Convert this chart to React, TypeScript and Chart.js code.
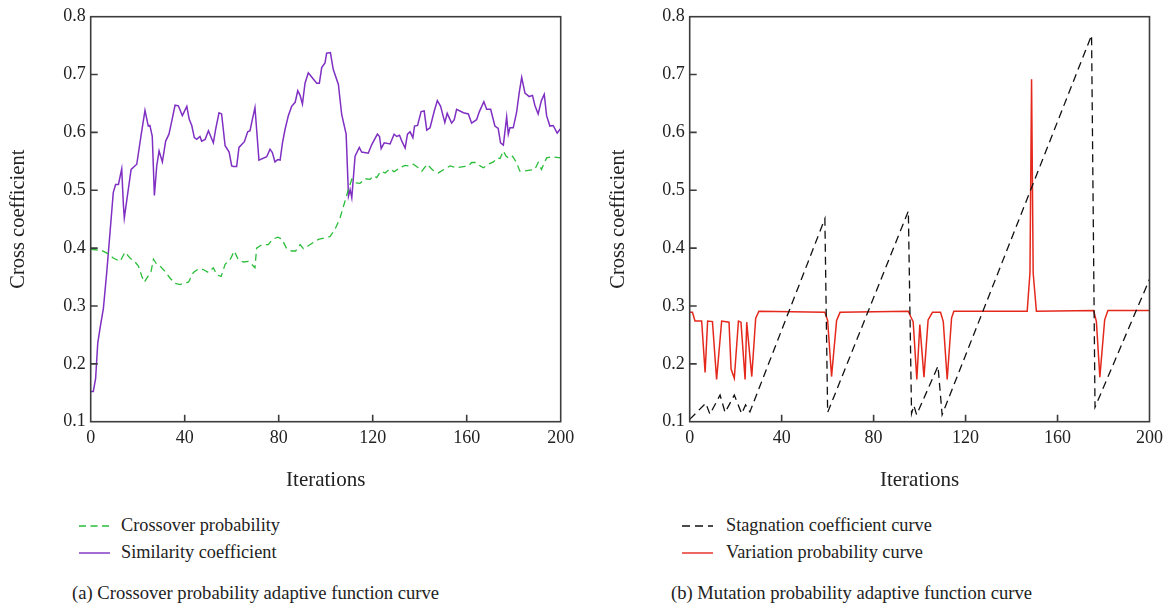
import React, { useEffect, useRef } from "react";
import { Chart, registerables } from "chart.js";

Chart.register(...registerables);

const FONT = "'Liberation Serif', 'Times New Roman', serif";

// ---- axes ----
const X_TICKS = [0, 40, 80, 120, 160, 200];
const Y_TICKS = [0.1, 0.2, 0.3, 0.4, 0.5, 0.6, 0.7, 0.8];
const Y_TICK_LABELS = ["0.1", "0.2", "0.3", "0.4", "0.5", "0.6", "0.7", "0.8"];
const X_TITLE = "Iterations";
const Y_TITLE = "Cross coefficient";

// ---- panel (a) ----
const crossX = [0, 4.7, 7.5, 9.6, 12.5, 14.6, 16.7, 18.9, 20.3, 21.7, 22.8, 24.5, 25.7, 26.7, 28.1, 29.5, 31.6, 33.8, 35.9, 38, 40.1, 41.6, 43.7, 45.8, 47.9, 50.1, 52.2, 53.6, 55.5, 57.2, 59.3, 61.1, 62.8, 65, 67.1, 68.5, 69.9, 70.6, 72.8, 75.6, 77.3, 79.6, 81.3, 83.4, 85.5, 87.2, 89.1, 90.5, 92.6, 94.8, 96.9, 99.7, 101.8, 103.9, 106.1, 108.2, 109.7, 111.1, 112.5, 114.6, 116.7, 118.9, 120.3, 121.7, 123.4, 125.3, 127.4, 129.1, 131.6, 133.8, 135.9, 137.3, 139.4, 140.9, 143.2, 145.5, 147.9, 150.7, 152.9, 155.7, 158.6, 160.7, 162.1, 163.5, 165.4, 167.1, 169.2, 171.4, 173, 174.2, 175.6, 176.7, 178.1, 179.5, 181.2, 182.6, 184.3, 186.9, 189, 190.4, 191.8, 194, 196.1, 200];
const crossY = [0.398, 0.396, 0.39, 0.383, 0.377, 0.393, 0.383, 0.376, 0.369, 0.352, 0.341, 0.352, 0.36, 0.381, 0.372, 0.369, 0.36, 0.348, 0.339, 0.337, 0.34, 0.341, 0.358, 0.364, 0.363, 0.358, 0.366, 0.354, 0.351, 0.372, 0.38, 0.395, 0.38, 0.376, 0.377, 0.372, 0.366, 0.4, 0.406, 0.406, 0.415, 0.419, 0.416, 0.399, 0.395, 0.395, 0.406, 0.399, 0.404, 0.41, 0.415, 0.418, 0.42, 0.432, 0.452, 0.481, 0.502, 0.519, 0.513, 0.512, 0.52, 0.519, 0.525, 0.522, 0.533, 0.53, 0.537, 0.532, 0.539, 0.543, 0.542, 0.545, 0.539, 0.533, 0.545, 0.535, 0.53, 0.537, 0.542, 0.539, 0.541, 0.542, 0.548, 0.548, 0.543, 0.539, 0.545, 0.549, 0.556, 0.555, 0.568, 0.559, 0.555, 0.559, 0.548, 0.533, 0.533, 0.535, 0.536, 0.548, 0.536, 0.556, 0.558, 0.556];

const simX = [0, 1.1, 2.1, 3, 4, 5.4, 6.8, 8.2, 9.6, 10.6, 11.8, 13.2, 13.9, 14.3, 15.7, 17.2, 19.6, 21.4, 23.1, 24.5, 25.2, 26.2, 27.1, 28.1, 29.1, 30.5, 31.9, 33.3, 34.2, 35.9, 37.3, 39, 40.9, 41.9, 43, 44.1, 45.1, 46.5, 47.2, 48.7, 50.1, 52.2, 53.2, 54.6, 55.7, 57.2, 58.9, 60, 60.7, 62.1, 63.1, 65.4, 66.8, 67.8, 68.5, 69.9, 71.6, 74.9, 76.3, 77.3, 78.4, 79.6, 80.6, 81.6, 82.7, 84.1, 85.5, 87, 88.1, 89.1, 90.1, 91.2, 92.6, 94.8, 96.2, 97.3, 98.3, 99.7, 100.4, 102, 103.2, 105.4, 106.8, 108.7, 109.7, 110.4, 111.1, 112.5, 114.3, 115.3, 118.1, 119.6, 122, 122.9, 123.6, 124.9, 127.4, 129.1, 130.2, 131.4, 132.4, 133.8, 134.8, 135.9, 137.1, 137.8, 139.1, 140.6, 141.9, 143, 144.4, 146.2, 147.5, 148.9, 150.7, 151.7, 153.6, 154.7, 155.7, 158.6, 160.7, 162.1, 164.2, 165.4, 167.3, 168.5, 170.2, 172, 173.4, 174.4, 175.6, 177, 177.7, 178.4, 179.8, 181.2, 182.4, 183.4, 184.8, 186.6, 188, 189, 190.4, 191.8, 193, 194, 195.4, 196.8, 198.5, 200];
const simY = [0.152, 0.152, 0.175, 0.236, 0.262, 0.296, 0.357, 0.426, 0.496, 0.51, 0.51, 0.537, 0.476, 0.452, 0.493, 0.536, 0.545, 0.594, 0.638, 0.611, 0.612, 0.593, 0.491, 0.542, 0.568, 0.549, 0.585, 0.597, 0.614, 0.647, 0.646, 0.629, 0.645, 0.623, 0.612, 0.591, 0.588, 0.593, 0.585, 0.588, 0.603, 0.582, 0.606, 0.634, 0.632, 0.577, 0.566, 0.542, 0.541, 0.541, 0.574, 0.584, 0.601, 0.603, 0.617, 0.643, 0.552, 0.558, 0.571, 0.565, 0.549, 0.553, 0.552, 0.582, 0.605, 0.629, 0.645, 0.652, 0.672, 0.664, 0.649, 0.685, 0.703, 0.692, 0.685, 0.685, 0.712, 0.72, 0.737, 0.738, 0.709, 0.683, 0.631, 0.597, 0.49, 0.501, 0.487, 0.559, 0.574, 0.566, 0.564, 0.579, 0.597, 0.593, 0.572, 0.582, 0.58, 0.597, 0.593, 0.595, 0.585, 0.573, 0.597, 0.601, 0.591, 0.611, 0.612, 0.636, 0.637, 0.604, 0.608, 0.637, 0.655, 0.645, 0.617, 0.633, 0.616, 0.622, 0.64, 0.634, 0.632, 0.616, 0.622, 0.636, 0.653, 0.64, 0.64, 0.611, 0.607, 0.582, 0.578, 0.627, 0.597, 0.608, 0.608, 0.634, 0.67, 0.695, 0.668, 0.662, 0.664, 0.647, 0.632, 0.655, 0.666, 0.629, 0.611, 0.612, 0.599, 0.607];

// ---- panel (b) ----
const stagX = [0, 7, 8.8, 13.2, 15.4, 19.4, 22.6, 24.3, 26.2, 58.8, 60, 95.1, 96.5, 97.5, 98.7, 108, 109.8, 174.8, 176.3, 200];
const stagY = [0.104, 0.132, 0.113, 0.146, 0.116, 0.146, 0.114, 0.129, 0.117, 0.451, 0.116, 0.464, 0.114, 0.128, 0.112, 0.196, 0.112, 0.768, 0.125, 0.346];

const varX = [0, 1.2, 2.3, 5.2, 6.7, 7.8, 9.9, 11.7, 13.9, 17.1, 18, 19.4, 21.2, 22.3, 24.1, 24.8, 27, 28.7, 30.1, 58.8, 60, 61.7, 63.9, 65.4, 95.1, 96.2, 97.2, 98.8, 100.1, 101.9, 103.7, 105.6, 109.1, 110.3, 112, 113.9, 114.9, 146.8, 148, 148.7, 149.4, 150.8, 175.7, 176.9, 178.4, 180.5, 181.9, 200];
const varY = [0.289, 0.289, 0.274, 0.274, 0.185, 0.274, 0.273, 0.173, 0.274, 0.272, 0.191, 0.175, 0.274, 0.272, 0.173, 0.272, 0.178, 0.279, 0.291, 0.289, 0.275, 0.178, 0.275, 0.289, 0.291, 0.281, 0.273, 0.173, 0.268, 0.177, 0.276, 0.289, 0.289, 0.273, 0.173, 0.279, 0.291, 0.291, 0.357, 0.692, 0.357, 0.291, 0.292, 0.273, 0.177, 0.276, 0.292, 0.292];

// ---- labels ----
const LEGEND_A = ["Crossover probability", "Similarity coefficient"];
const LEGEND_B = ["Stagnation coefficient curve", "Variation probability curve"];
const CAPTION_A = "(a) Crossover probability adaptive function curve";
const CAPTION_B = "(b) Mutation probability adaptive function curve";

const GREEN = "#2bbd3a";
const PURPLE = "#7f2fc2";
const BLACK = "#111111";
const RED = "#e5281c";
const GREEN_DASH = [7, 4.5];
const BLACK_DASH = [8, 5];

const zip = (xs: number[], ys: number[]) => xs.map((x, i) => ({ x, y: ys[i] }));

const frameTicks = {
  id: "frameTicks",
  afterDraw(chart: any) {
    const { ctx, chartArea: a, scales } = chart;
    ctx.save();
    ctx.strokeStyle = "#3c3c3c";
    ctx.lineWidth = 1.6;
    ctx.strokeRect(a.left, a.top, a.right - a.left, a.bottom - a.top);
    ctx.beginPath();
    X_TICKS.slice(1, -1).forEach((v) => {
      const px = scales.x.getPixelForValue(v);
      ctx.moveTo(px, a.bottom);
      ctx.lineTo(px, a.bottom - 7);
    });
    Y_TICKS.slice(1, -1).forEach((v) => {
      const py = scales.y.getPixelForValue(v);
      ctx.moveTo(a.left, py);
      ctx.lineTo(a.left + 7, py);
    });
    ctx.stroke();
    ctx.restore();
  },
};

function makeConfig(datasets: any[], yWidth: number, padRight: number) {
  return {
    type: "line",
    data: { datasets },
    plugins: [frameTicks],
    options: {
      animation: false,
      responsive: false,
      events: [],
      layout: { padding: { left: 0, right: padRight, top: 16.7, bottom: 0 } },
      plugins: { legend: { display: false }, tooltip: { enabled: false } },
      elements: { point: { radius: 0 }, line: { tension: 0 } },
      scales: {
        x: {
          type: "linear",
          min: 0,
          max: 200,
          afterBuildTicks: (s: any) => {
            s.ticks = X_TICKS.map((v) => ({ value: v }));
          },
          afterFit: (s: any) => {
            s.height = 78.3;
          },
          grid: { display: false, drawTicks: false },
          border: { display: false },
          ticks: {
            color: "#222",
            font: { family: FONT, size: 18 },
            padding: 6,
            maxRotation: 0,
            autoSkip: false,
            callback: (v: number) => String(v),
          },
          title: {
            display: true,
            text: X_TITLE,
            color: "#222",
            font: { family: FONT, size: 21 },
            padding: { top: 0, bottom: 7 },
          },
        },
        y: {
          type: "linear",
          min: 0.1,
          max: 0.8,
          afterBuildTicks: (s: any) => {
            s.ticks = Y_TICKS.map((v) => ({ value: v }));
          },
          afterFit: (s: any) => {
            s.width = yWidth;
          },
          grid: { display: false, drawTicks: false },
          border: { display: false },
          ticks: {
            color: "#222",
            font: { family: FONT, size: 18 },
            padding: 5,
            autoSkip: false,
            callback: (_v: number, i: number) => Y_TICK_LABELS[i],
          },
          title: {
            display: true,
            text: Y_TITLE,
            color: "#222",
            font: { family: FONT, size: 20.5 },
            padding: { top: 6, bottom: 0 },
          },
        },
      },
    },
  } as any;
}

function LegendRow(props: { left: number; cy: number; color: string; dash: number[] | null; text: string; textLeft: number }) {
  const { left, cy, color, dash, text, textLeft } = props;
  return (
    <>
      <svg style={{ position: "absolute", left, top: cy - 3 }} width={32} height={6}>
        <line x1={0} y1={3} x2={31} y2={3} stroke={color} strokeWidth={1.4} strokeDasharray={dash ? dash.join(" ") : undefined} />
      </svg>
      <div style={{ position: "absolute", left: textLeft, top: cy - 10, fontSize: 18.3, lineHeight: "19px", whiteSpace: "nowrap", color: "#222" }}>{text}</div>
    </>
  );
}

export default function App() {
  const refA = useRef<HTMLCanvasElement>(null);
  const refB = useRef<HTMLCanvasElement>(null);

  useEffect(() => {
    const a = new Chart(
      refA.current as HTMLCanvasElement,
      makeConfig(
        [
          { label: LEGEND_A[0], data: zip(crossX, crossY), borderColor: GREEN, borderWidth: 1.3, borderDash: GREEN_DASH, fill: false },
          { label: LEGEND_A[1], data: zip(simX, simY), borderColor: PURPLE, borderWidth: 1.5, fill: false },
        ],
        90.7,
        39.3
      )
    );
    const b = new Chart(
      refB.current as HTMLCanvasElement,
      makeConfig(
        [
          { label: LEGEND_B[0], data: zip(stagX, stagY), borderColor: BLACK, borderWidth: 1.3, borderDash: BLACK_DASH, fill: false },
          { label: LEGEND_B[1], data: zip(varX, varY), borderColor: RED, borderWidth: 1.5, fill: false },
        ],
        89.7,
        25.5
      )
    );
    return () => {
      a.destroy();
      b.destroy();
    };
  }, []);

  return (
    <div style={{ position: "absolute", left: 0, top: 0, width: 1175, height: 608, background: "#fff", fontFamily: FONT, overflow: "hidden" }}>
      <div style={{ position: "absolute", left: 0, top: 0, width: 600, height: 500 }}>
        <canvas ref={refA} width={600} height={500} />
      </div>
      <div style={{ position: "absolute", left: 600, top: 0, width: 575, height: 500 }}>
        <canvas ref={refB} width={575} height={500} />
      </div>
      <LegendRow left={79} cy={526} color={GREEN} dash={GREEN_DASH} text={LEGEND_A[0]} textLeft={121} />
      <LegendRow left={79} cy={553} color={PURPLE} dash={null} text={LEGEND_A[1]} textLeft={121} />
      <LegendRow left={682} cy={526} color={BLACK} dash={BLACK_DASH} text={LEGEND_B[0]} textLeft={726} />
      <LegendRow left={682} cy={553} color={RED} dash={null} text={LEGEND_B[1]} textLeft={726} />
      <div style={{ position: "absolute", left: 72, top: 583, fontSize: 18.6, lineHeight: "20px", whiteSpace: "nowrap", color: "#222" }}>{CAPTION_A}</div>
      <div style={{ position: "absolute", left: 671, top: 583, fontSize: 18.6, lineHeight: "20px", whiteSpace: "nowrap", color: "#222" }}>{CAPTION_B}</div>
    </div>
  );
}
